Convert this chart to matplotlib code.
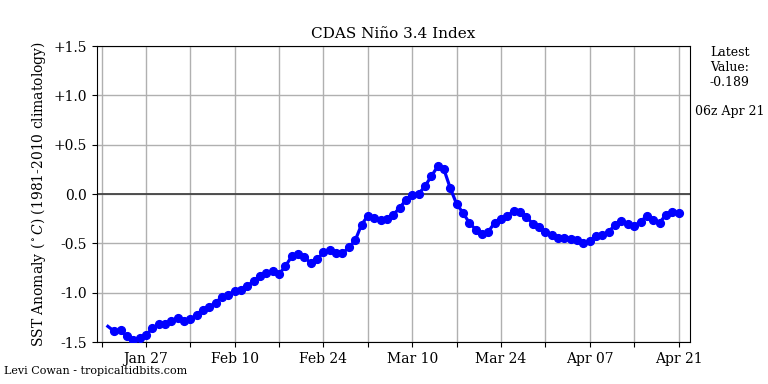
import datetime as dt
import matplotlib
matplotlib.use("Agg")
import matplotlib.pyplot as plt
import matplotlib.dates as mdates
from matplotlib.ticker import FuncFormatter

# ---------------- DATA ----------------
start_day = dt.datetime(2021, 1, 21)
anomaly = [
    -1.34, -1.39, -1.38, -1.44, -1.48, -1.46, -1.43, -1.36, -1.32, -1.32,
    -1.29, -1.26, -1.29, -1.27, -1.22, -1.17, -1.14, -1.10, -1.04, -1.02,
    -0.98, -0.97, -0.93, -0.88, -0.83, -0.80, -0.78, -0.81, -0.73, -0.63,
    -0.61, -0.64, -0.70, -0.66, -0.59, -0.57, -0.60, -0.60, -0.54, -0.47,
    -0.31, -0.22, -0.24, -0.26, -0.25, -0.21, -0.14, -0.06, -0.01, -0.00,
    0.08, 0.18, 0.28, 0.25, 0.06, -0.10, -0.19, -0.29, -0.36, -0.40,
    -0.38, -0.29, -0.25, -0.22, -0.17, -0.18, -0.23, -0.30, -0.33, -0.38,
    -0.41, -0.44, -0.44, -0.45, -0.47, -0.50, -0.48, -0.42, -0.41, -0.38,
    -0.31, -0.27, -0.30, -0.32, -0.28, -0.22, -0.26, -0.29, -0.21, -0.18,
    -0.189,
]
dates = [start_day + dt.timedelta(days=i) for i in range(len(anomaly))]
latest_label = "06z Apr 21"

# ---------------- PLOT ----------------
plt.rcParams["font.family"] = "DejaVu Serif"
plt.rcParams["mathtext.fontset"] = "dejavuserif"

fig = plt.figure(figsize=(7.68, 3.84), dpi=100)
ax = fig.add_axes([0.126, 0.109, 0.772, 0.771])

ax.plot(dates, anomaly, color="#0000ff", linewidth=2.3, marker="o",
        markersize=5.6, markevery=slice(1, None), zorder=3)
ax.axhline(0, color="#444444", linewidth=1.3, zorder=2)

ax.set_ylim(-1.5, 1.5)
ax.set_yticks([-1.5, -1.0, -0.5, 0.0, 0.5, 1.0, 1.5])
ax.yaxis.set_major_formatter(FuncFormatter(lambda v, p: "0.0" if abs(v) < 1e-9 else f"{v:+.1f}"))

# weekly grid, labels every other week
pad = dt.timedelta(hours=42)
ax.set_xlim(dates[0] - pad, dates[-1] + pad)
major = [dt.datetime(2021, 1, 27) + dt.timedelta(days=14 * k) for k in range(7)]
minor = [dt.datetime(2021, 1, 20) + dt.timedelta(days=14 * k) for k in range(7)]
ax.set_xticks(major)
ax.set_xticks(minor, minor=True)
ax.xaxis.set_major_formatter(mdates.DateFormatter("%b %d"))
ax.tick_params(axis="x", which="minor", length=3.5, width=0.8)
ax.tick_params(labelsize=10)

ax.grid(True, which="both", color="#b0b0b0", linewidth=1)
ax.set_axisbelow(True)

ax.set_title("CDAS Niño 3.4 Index", fontsize=11)
ax.set_ylabel(r"SST Anomaly ($^\circ C$) (1981-2010 climatology)", fontsize=10)

fig.text(0.950, 0.880, f"Latest\nValue:\n{anomaly[-1]:.3f}", ha="center", va="top", fontsize=9)
fig.text(0.950, 0.710, latest_label, ha="center", va="center", fontsize=9)
fig.text(0.005, 0.022, "Levi Cowan - tropicaltidbits.com", ha="left", va="bottom", fontsize=8)

fig.savefig("out.png", dpi=100)
plt.close(fig)
